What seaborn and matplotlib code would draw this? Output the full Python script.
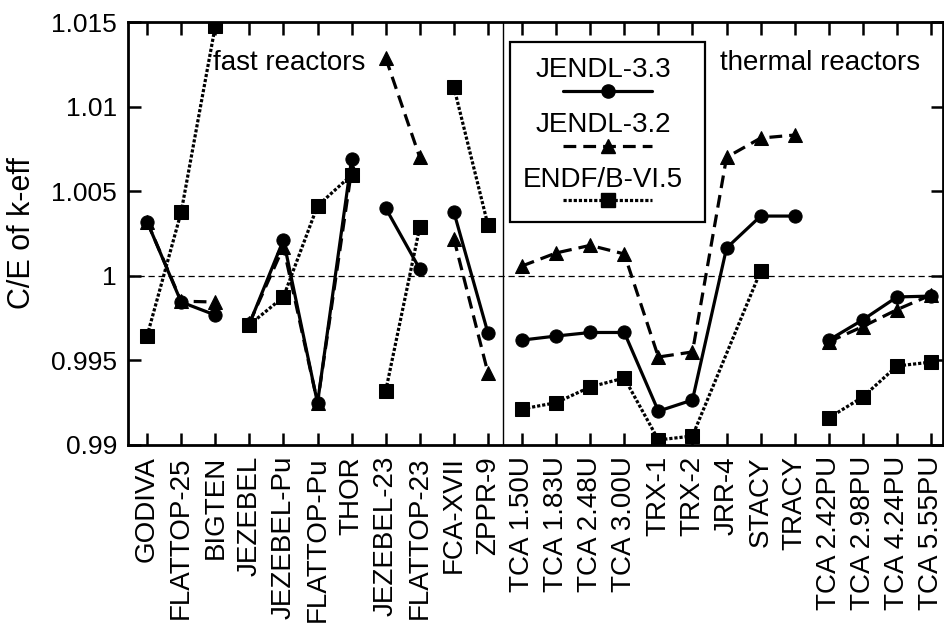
import numpy as np
import pandas as pd
import matplotlib
matplotlib.use("Agg")
import matplotlib.pyplot as plt
import seaborn as sns
from matplotlib.lines import Line2D
from matplotlib.patches import Rectangle

categories = ["GODIVA", "FLATTOP-25", "BIGTEN", "JEZEBEL", "JEZEBEL-Pu", "FLATTOP-Pu",
              "THOR", "JEZEBEL-23", "FLATTOP-23", "FCA-XVII", "ZPPR-9",
              "TCA 1.50U", "TCA 1.83U", "TCA 2.48U", "TCA 3.00U", "TRX-1", "TRX-2",
              "JRR-4", "STACY", "TRACY",
              "TCA 2.42PU", "TCA 2.98PU", "TCA 4.24PU", "TCA 5.55PU"]
groups = [0, 0, 0, 1, 1, 1, 1, 2, 2, 3, 3, 4, 4, 4, 4, 4, 4, 4, 4, 4, 5, 5, 5, 5]

jendl33 = [1.0032, 0.99845, 0.99768, 0.99715, 1.00212, 0.99248, 1.0069, 1.0040, 1.0004,
           1.00377, 0.99662,
           0.9962, 0.99644, 0.99665, 0.99665, 0.9920, 0.99266, 1.00164, 1.00353, 1.00353,
           0.9962, 0.99740, 0.99875, 0.99880]
jendl32 = [1.0032, 0.9985, 0.99845, 0.9972, 1.0017, 0.9925, 1.00625, 1.01287, 1.0070,
           1.0022, 0.99426,
           1.00058, 1.00135, 1.0018, 1.00129, 0.9952, 0.9955, 1.0070, 1.00814, 1.00832,
           0.9961, 0.9970, 0.9980, 0.99887]
endf = [0.99644, 1.00377, 1.01476, 0.9971, 0.99875, 1.00413, 1.00596, 0.99319, 1.00288,
        1.01116, 1.0030,
        0.99213, 0.99250, 0.99343, 0.99396, 0.9903, 0.99053, None, 1.00028, None,
        0.9916, 0.99284, 0.99467, 0.9949]

series_names = ["JENDL-3.3", "JENDL-3.2", "ENDF/B-VI.5"]
series_values = [jendl33, jendl32, endf]
styles = {"JENDL-3.3": dict(ls="-", marker="o"),
          "JENDL-3.2": dict(ls=(0, (4, 2.2)), marker="^"),
          "ENDF/B-VI.5": dict(ls=(0, (1, 0.6)), marker="s")}

rows = []
for name, vals in zip(series_names, series_values):
    for i, (v, g) in enumerate(zip(vals, groups)):
        if v is not None:
            rows.append(dict(series=name, idx=i, value=v, group=g))
df = pd.DataFrame(rows)

sns.set_theme(style="white")
plt.rcParams["font.family"] = ["Liberation Sans", "DejaVu Sans"]
plt.rcParams.update({"text.color": "black", "axes.labelcolor": "black",
                     "xtick.color": "black", "ytick.color": "black"})

fig = plt.figure(figsize=(9.45, 6.27), dpi=100)
ax = fig.add_axes([128 / 945, 1 - 445 / 627, 815 / 945, 423 / 627])

ax.axhline(1.0, color="black", lw=0.9, ls=(0, (5, 3)), zorder=1)
ax.axvline(10.45, color="black", lw=1.0, zorder=1)

for name in series_names:
    st = styles[name]
    sub = df[df.series == name]
    for g, seg in sub.groupby("group"):
        sns.lineplot(data=seg, x="idx", y="value", ax=ax, color="black",
                     linestyle=st["ls"], marker=st["marker"], markersize=9.5,
                     markeredgecolor="black", linewidth=2.3, estimator=None,
                     sort=False, legend=False, zorder=3)

ax.set_xlim(-0.56, 23.35)
ax.set_ylim(0.99, 1.015)
ax.set_xticks(range(len(categories)))
ax.set_xticklabels(categories, rotation=90, fontsize=20)
yt = [0.99, 0.995, 1.0, 1.005, 1.01, 1.015]
ax.set_yticks(yt)
ax.set_yticklabels(["0.99", "0.995", "1", "1.005", "1.01", "1.015"], fontsize=19)
ax.tick_params(axis="both", direction="in", length=9, width=1.8, color="black",
               labelcolor="black", top=True, right=True, bottom=True, left=True, pad=8)
ax.set_xlabel("")
ax.set_ylabel("C/E of k-eff", fontsize=22, labelpad=10, color="black")
for s in ax.spines.values():
    s.set_color("black")
    s.set_linewidth(2.0)

ax.text(0.198, 0.903, "fast reactors", transform=ax.transAxes, ha="center",
        va="center", fontsize=20, color="black")
ax.text(0.849, 0.903, "thermal reactors", transform=ax.transAxes, ha="center",
        va="center", fontsize=20, color="black")

# legend box
ax.add_patch(Rectangle((0.469, 0.527), 0.239, 0.426, transform=ax.transAxes,
                       fill=True, facecolor="white", edgecolor="black", lw=1.6, zorder=5))
ty = [0.887, 0.757, 0.626]
ly = [0.837, 0.707, 0.579]
for name, t, l in zip(series_names, ty, ly):
    st = styles[name]
    ax.text(0.583, t, name, transform=ax.transAxes, ha="center", va="center",
            fontsize=20, color="black", zorder=6)
    ax.add_line(Line2D([0.534, 0.643], [l, l], transform=ax.transAxes, color="black",
                       ls=st["ls"], lw=2.3, zorder=6))
    ax.add_line(Line2D([0.5885], [l], transform=ax.transAxes, color="black",
                       marker=st["marker"], markersize=9.5, ls="none", zorder=7))

fig.savefig("out.png", dpi=100)
